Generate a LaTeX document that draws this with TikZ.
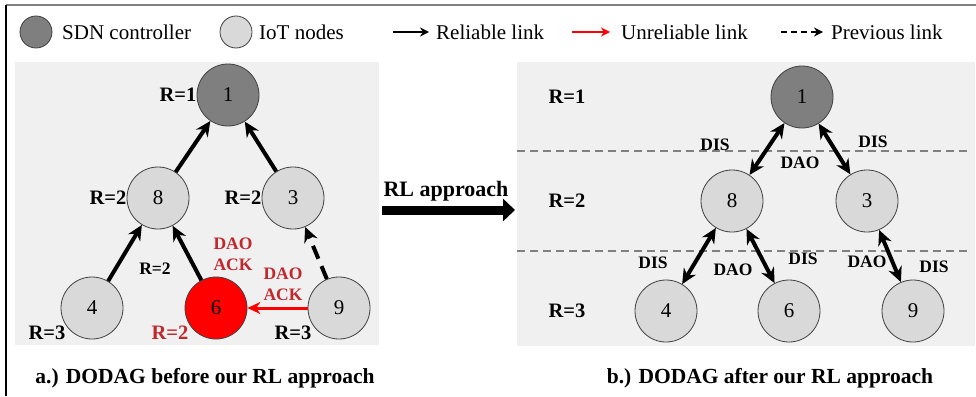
\documentclass[tikz,border=0pt]{standalone}
\usepackage{fontspec}
\setmainfont{Liberation Serif}[BoldFont={Liberation Serif Bold}]
\usetikzlibrary{arrows.meta,positioning}
\definecolor{ctrlgray}{HTML}{7F7F7F}
\definecolor{nodegray}{HTML}{D9D9D9}
\definecolor{panelgray}{HTML}{F0F0F0}
\definecolor{labelred}{HTML}{C0282D}

\begin{document}
\begin{tikzpicture}[x=1pt,y=-1pt,
  iot/.style={circle, draw=black!75, line width=0.8pt, fill=nodegray, minimum size=62pt, inner sep=0pt, font=\fontsize{21}{24}\selectfont},
  ctrl/.style={iot, fill=ctrlgray},
  bad/.style={iot, fill=red},
  rank/.style={inner sep=0pt, font=\fontsize{20.5}{24}\selectfont\bfseries},
  msg/.style={inner sep=0pt, align=center, font=\fontsize{17.5}{21}\selectfont\bfseries},
  link/.style={line width=4pt, -{Stealth[length=15pt,width=14pt]}},
  duplex/.style={line width=4pt, {Stealth[length=15pt,width=14pt]}-{Stealth[length=15pt,width=14pt]}},
  legtext/.style={anchor=west, inner sep=0pt, font=\fontsize{21}{24}\selectfont},
  legdot/.style={circle, draw=black!75, line width=0.8pt, minimum width=30pt, minimum height=32pt, inner sep=0pt},
  legarrow/.style={line width=1.8pt, -{Stealth[length=9pt,width=9pt]}}]
\useasboundingbox (0,0) rectangle (976,396);
\draw[gray, line width=1.5pt] (6,5) -- (976,5);
\draw[line width=1.2pt] (6,5) -- (6,396);

\node[legdot, fill=ctrlgray] (kctrl) at (36,32) {};
\node[legtext] (tctrl) at (62,32) {SDN controller};
\node[legdot, fill=nodegray] (kiot) at (236,32) {};
\node[legtext] (tiot) at (259,32) {IoT nodes};
\coordinate (ka1) at (393,32); \coordinate (ka2) at (429,32);
\draw[legarrow] (ka1) -- (ka2);
\node[legtext] (trel) at (436,32) {Reliable link};
\coordinate (kb1) at (572,32); \coordinate (kb2) at (610,32);
\draw[legarrow, red] (kb1) -- (kb2);
\node[legtext] (tunrel) at (621,32) {Unreliable link};
\coordinate (kc1) at (781,32); \coordinate (kc2) at (823,32);
\draw[legarrow, dash pattern=on 6pt off 4pt] (kc1) -- (kc2);
\node[legtext] (tprev) at (831,32) {Previous link};

\fill[panelgray] (15,62) rectangle (379,345);
\fill[panelgray] (517,62) rectangle (975,346);

\node[ctrl] (l1) at (228,95) {1};
\node[iot] (l8) at (158,198) {8};
\node[iot] (l3) at (293,198) {3};
\node[iot] (l4) at (92,308) {4};
\node[bad] (l6) at (216,308) {6};
\node[iot] (l9) at (339,308) {9};

\draw[link] (l8) -- (l1);
\draw[link] (l3) -- (l1);
\draw[link] (l4) -- (l8);
\draw[link] (l6) -- (l8);
\draw[link, dash pattern=on 14pt off 8pt] (l9) -- (l3);
\draw[red, line width=3pt, -{Stealth[length=13pt,width=12pt]}] (l9) -- (l6);

\node[rank, left=0pt of l1] (lr1) {R=1};
\node[rank, left=0pt of l8] (lr8) {R=2};
\node[rank, left=0pt of l3] (lr3) {R=2};
\node[rank] (lr4) at (47,333) {R=3};
\node[rank, labelred] (lr6) at (170,333) {R=2};
\node[rank] (lr9) at (293,333) {R=3};
\node[msg] (lr6b) at (155,269) {R=2};
\node[msg, labelred] (ack1) at (233,254) {DAO\\ACK};
\node[msg, labelred] (ack2) at (283,284) {DAO\\ACK};

\coordinate (rls) at (382,210); \coordinate (rle) at (515,210);
\draw[line width=9pt, -{Triangle[length=12pt,width=22pt]}] (rls) -- (rle);
\node[inner sep=0pt, font=\fontsize{22}{24}\selectfont\bfseries] (rl) at (446,191) {RL approach};

\draw[gray, dash pattern=on 8pt off 5pt, line width=1.2pt] (517,151) -- (967,151);
\draw[gray, dash pattern=on 8pt off 5pt, line width=1.2pt] (517,251) -- (967,251);

\node[ctrl] (r1) at (802,97) {1};
\node[iot] (r8) at (732,201) {8};
\node[iot] (r3) at (867,201) {3};
\node[iot] (r4) at (666,311) {4};
\node[iot] (r6) at (789,311) {6};
\node[iot] (r9) at (913,311) {9};

\draw[duplex] (r1) -- (r8);
\draw[duplex] (r1) -- (r3);
\draw[duplex] (r8) -- (r4);
\draw[duplex] (r8) -- (r6);
\draw[duplex] (r3) -- (r9);

\node[rank] (rr1) at (567,97) {R=1};
\node[rank] (rr2) at (567,201) {R=2};
\node[rank] (rr3) at (567,311) {R=3};
\node[msg] (dis1) at (715,145) {DIS};
\node[msg] (dao1) at (800,163) {DAO};
\node[msg] (dis2) at (873,142) {DIS};
\node[msg] (dis3) at (653,263) {DIS};
\node[msg] (dao2) at (733,270) {DAO};
\node[msg] (dis4) at (803,259) {DIS};
\node[msg] (dao3) at (867,262) {DAO};
\node[msg] (dis5) at (934,267) {DIS};

\node[inner sep=0pt, font=\fontsize{21.5}{24}\selectfont\bfseries] (capa) at (205,378) {a.) DODAG before our RL approach};
\node[inner sep=0pt, font=\fontsize{21.5}{24}\selectfont\bfseries] (capb) at (770,378) {b.) DODAG after our RL approach};
\end{tikzpicture}
\end{document}
